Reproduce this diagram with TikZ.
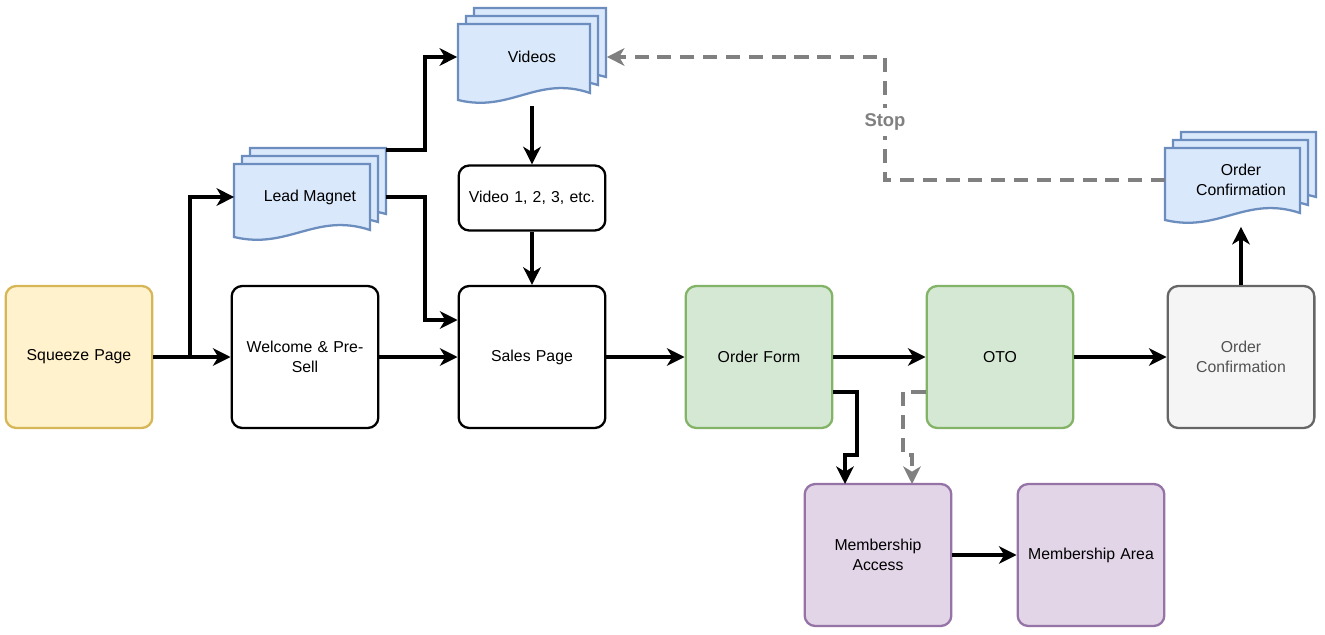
\documentclass[tikz,border=0pt]{standalone}
\usepackage{fontspec}
\setmainfont{Liberation Sans}
\usetikzlibrary{arrows.meta}
\definecolor{yf}{HTML}{FFF2CC}\definecolor{ys}{HTML}{D6B656}
\definecolor{gf}{HTML}{D5E8D4}\definecolor{gs}{HTML}{82B366}
\definecolor{pf}{HTML}{E1D5E7}\definecolor{ps}{HTML}{9673A6}
\definecolor{bf}{HTML}{DAE8FC}\definecolor{bs}{HTML}{6C8EBF}
\definecolor{wf}{HTML}{F5F5F5}\definecolor{ws}{HTML}{666666}
\definecolor{dg}{HTML}{808080}
\tikzset{
 box/.style={draw,line width=1.3pt,rounded corners=6pt,minimum width=2.84cm,minimum height=2.84cm,align=center,font=\fontsize{9}{11}\selectfont,text width=2.7cm},
 doc/.style={draw=bs,fill=bf,line width=1.3pt},
 lbl/.style={align=center,font=\fontsize{9}{11}\selectfont},
 arr/.style={line width=2.6pt,-{Stealth[length=10pt,width=10pt,inset=3pt]}},
 darr/.style={arr,draw=dg,dash pattern=on 8pt off 5pt},
}
\newcommand{\onedoc}[4]{% x1 y1 x2 y2
 \path[doc] (#1,#2)--(#3,#2)--(#3,#4-12) .. controls ({#3-0.4*(#3-#1)},#4-30) and ({#1+0.4*(#3-#1)},#4+8) .. (#1,#4-5)--cycle;}
\newcommand{\mdoc}[4]{%
 \onedoc{#1+16}{#2-16}{#3+16}{#4-16}\onedoc{#1+8}{#2-8}{#3+8}{#4-8}\onedoc{#1}{#2}{#3}{#4}}
\begin{document}
\begin{tikzpicture}[x=0.02cm,y=-0.02cm]
\useasboundingbox (0,0) rectangle (1325,635);
\node[box,fill=yf,draw=ys] (sq) at (79,357) {Squeeze Page};
\node[box,fill=white] (wel) at (305,357) {Welcome \& Pre-\\Sell};
\node[box,fill=white] (sal) at (532,357) {Sales Page};
\node[box,fill=gf,draw=gs] (of) at (759,357) {Order Form};
\node[box,fill=gf,draw=gs] (oto) at (1000,357) {OTO};
\node[box,fill=wf,draw=ws,text=ws!80!black] (oc) at (1241,357) {Order\\Confirmation};
\node[box,fill=pf,draw=ps] (ma) at (878,555) {Membership\\Access};
\node[box,fill=pf,draw=ps] (mar) at (1091,555) {Membership Area};
\node[box,fill=white,minimum height=1.3cm,minimum width=2.86cm] (v1) at (532,198) {Video 1, 2, 3, etc.};
\mdoc{458}{24}{590}{105}
\mdoc{234}{164}{370}{242}
\mdoc{1165}{148}{1300}{225}
\node[lbl,minimum width=2.98cm,minimum height=1.94cm] (vid) at (532,57) {Videos};
\node[lbl,minimum width=3.02cm,minimum height=1.88cm] (lm) at (310,197) {Lead Magnet};
\node[lbl,minimum width=3.02cm,minimum height=1.86cm] (ocd) at (1241,180) {Order\\Confirmation};
\coordinate (j) at (190,357);
\draw[line width=2.6pt] (sq.east) -- (j);
\draw[arr] (j) -- (wel.west);
\draw[arr] (j) |- (lm.west);
\draw[arr] (lm.east) -| (425,320) -- (sal.west|-0,320);
\draw[arr] (lm.north east|-0,150) -| (425,57) -- (vid.west);
\draw[arr] (vid.south) -- (v1.north);
\draw[arr] (v1.south) -- (sal.north);
\draw[arr] (wel) -- (sal);
\draw[arr] (sal) -- (of);
\draw[arr] (of) -- (oto);
\draw[arr] (oto) -- (oc);
\draw[arr] (oc.north) -- (oc.north|-ocd.south);
\draw[arr] (of.east|-0,392) -| (857,455) -| (845,484);
\draw[darr] (oto.west|-0,392) -| (903,455) -| (912,484);
\draw[arr] (ma) -- (mar);
\draw[darr] (ocd.west) -| (885,57) -- (vid.east);
\node[fill=white,text=dg,font=\bfseries\fontsize{10.5}{12}\selectfont] (stop) at (885,122) {Stop};
\end{tikzpicture}
\end{document}
